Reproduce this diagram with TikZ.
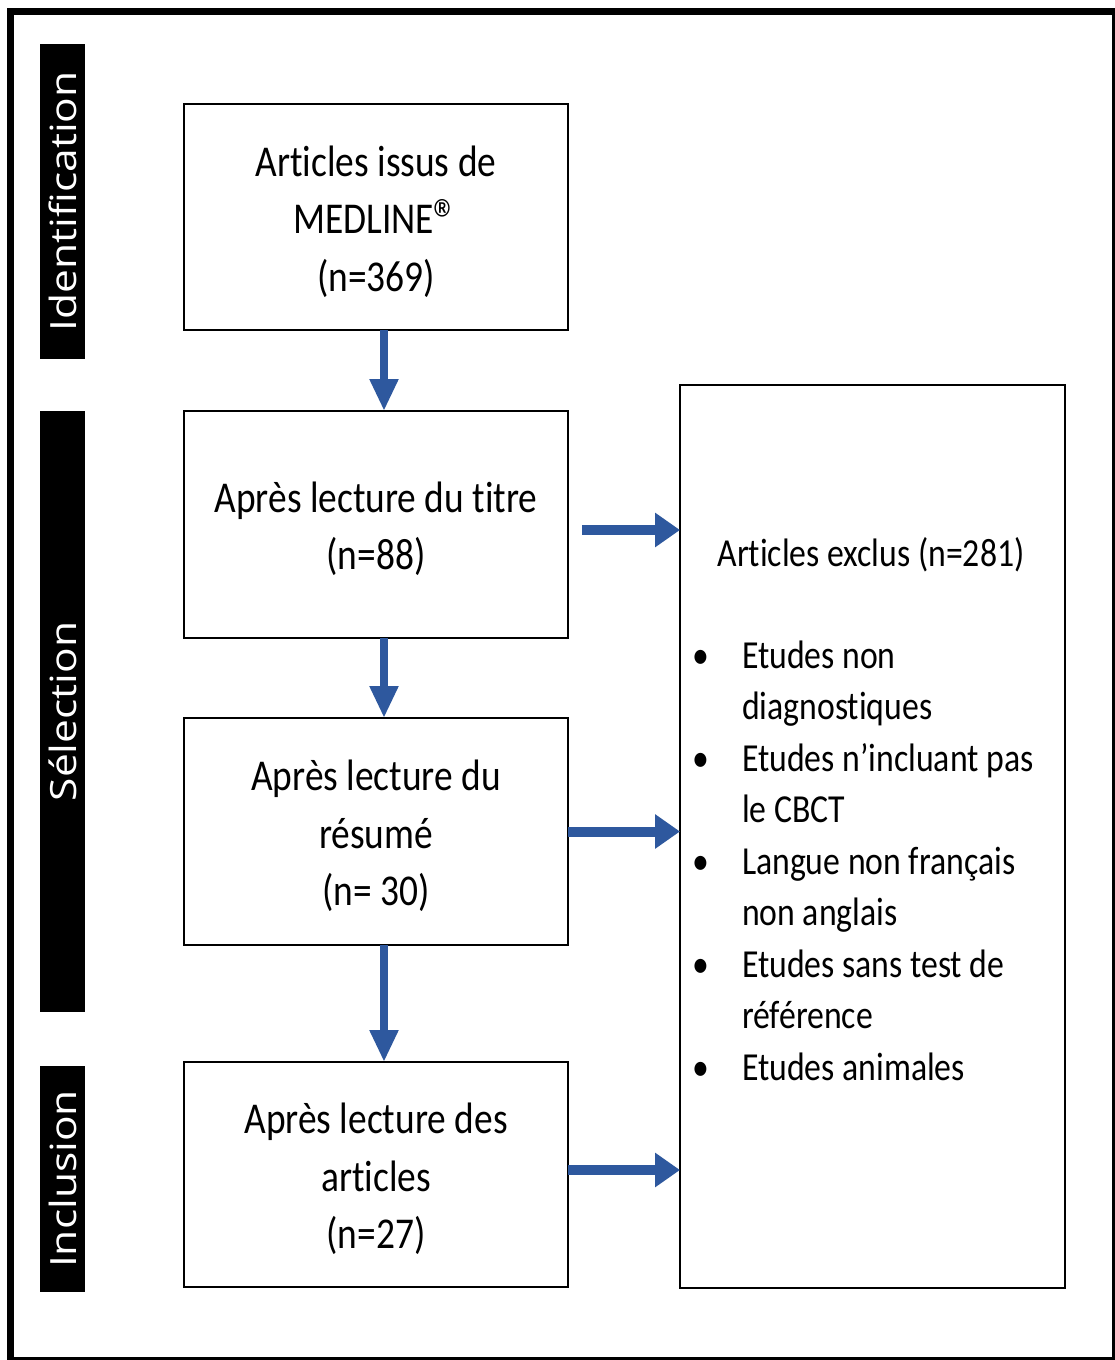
\documentclass[tikz,border=0pt]{standalone}
\usepackage{fontspec}
\setmainfont{Carlito}[FakeStretch=0.85, Ligatures=NoCommon]
\newfontfamily\labfont{Open Sans}[Ligatures=NoCommon]
\usetikzlibrary{arrows.meta,calc}
\definecolor{arrowblue}{RGB}{46,88,158}
\newcommand{\regmark}{\raisebox{-6pt}{\fontsize{58}{58}\selectfont ®}}
\tikzset{
  box/.style={draw=black, line width=2pt, inner sep=0pt, outer sep=0pt,
    minimum width=384pt},
  boxtext/.style={inner sep=0pt, outer sep=0pt, align=center, font=\fontsize{44}{57.5}\selectfont},
  lab/.style={fill=black, text=white, inner sep=0pt, outer sep=0pt, minimum width=45pt,
    font=\labfont\fontsize{42.5}{42.5}\selectfont},
  varrow/.style={draw=arrowblue, line width=8.5pt, -{Triangle[length=32pt,width=27pt]}},
  harrow/.style={draw=arrowblue, line width=10pt, -{Triangle[length=25pt,width=33pt]}},
  exfont/.style={font=\fontsize{39.7}{51.5}\selectfont, inner sep=0pt, outer sep=0pt},
}
\begin{document}
\begin{tikzpicture}[x=1pt, y=-1pt]
\useasboundingbox (0,0) rectangle (1115,1360);
\fill[white] (0,0) rectangle (1115,1360);
% outer frame
\draw[line width=7.5pt] (10.3,1359) -- (10.3,11.6) -- (1115,11.6);
\draw[line width=2.5pt] (1113.6,8) -- (1113.6,1358.3) -- (7,1358.3);
% phase labels
\node[lab, minimum height=315pt] (lid) at (62.5,201.5) {\rotatebox{90}{\scalebox{1}[0.85]{Identification}}};
\node[lab, minimum height=601pt] (lsel) at (62.5,711.5) {\rotatebox{90}{\scalebox{1}[0.85]{Sélection}}};
\node[lab, minimum height=226pt] (linc) at (62.5,1179) {\rotatebox{90}{\scalebox{1}[0.85]{Inclusion}}};
% main boxes
\node[box, minimum height=226pt] (b1) at (376,217) {};
\node[box, minimum height=227pt] (b2) at (376,524.5) {};
\node[box, minimum height=227pt] (b3) at (376,831.5) {};
\node[box, minimum height=225pt] (b4) at (376,1174.5) {};
\node[boxtext] (t1) at ([yshift=-4.5pt]b1.center) {Articles issus de\\MEDLINE\regmark\\(n=369)};
\node[boxtext] (t2) at ([yshift=-4.5pt]b2.center) {Après lecture du titre\\(n=88)};
\node[boxtext] (t3) at ([yshift=-4.5pt]b3.center) {Après lecture du\\résumé\\(n= 30)};
\node[boxtext] (t4) at ([yshift=-4.5pt]b4.center) {Après lecture des\\articles\\(n=27)};
% excluded box
\node[draw=black, line width=2pt, inner sep=0pt, outer sep=0pt, minimum width=385pt, minimum height=903pt] (excl) at (872.5,836.5) {};
\node[exfont, anchor=base] (ttl) at (871,566.7) {Articles exclus (n=281)};
\foreach \y/\n in {668/1, 771/2, 874/3, 977/4, 1080/5}
  \node[exfont, anchor=base] (bul\n) at (701,\y) {•};
\foreach \y/\t/\n in {668/Etudes non/1, 719.5/diagnostiques/2, 771/Etudes n’incluant pas/3,
    822.5/le CBCT/4, 874/Langue non français/5, 925.5/non anglais/6,
    977/Etudes sans test de/7, 1028.5/référence/8, 1080/Etudes animales/9}
  \node[exfont, anchor=base west] (li\n) at (742,\y) {\t};
% vertical arrows
\draw[varrow] ([xshift=8pt]b1.south) -- ([xshift=8pt]b2.north);
\draw[varrow] ([xshift=8pt]b2.south) -- ([xshift=8pt]b3.north);
\draw[varrow] ([xshift=8pt]b3.south) -- ([xshift=8pt]b4.north);
% horizontal arrows
\coordinate (h1) at ([shift={(14,5.5)}]b2.east);
\coordinate (h2) at (b3.east);
\coordinate (h3) at ([yshift=4.5pt]b4.east);
\draw[harrow] (h1) -- (h1 -| excl.west);
\draw[harrow] (h2) -- (h2 -| excl.west);
\draw[harrow] (h3) -- (h3 -| excl.west);
\end{tikzpicture}
\end{document}
